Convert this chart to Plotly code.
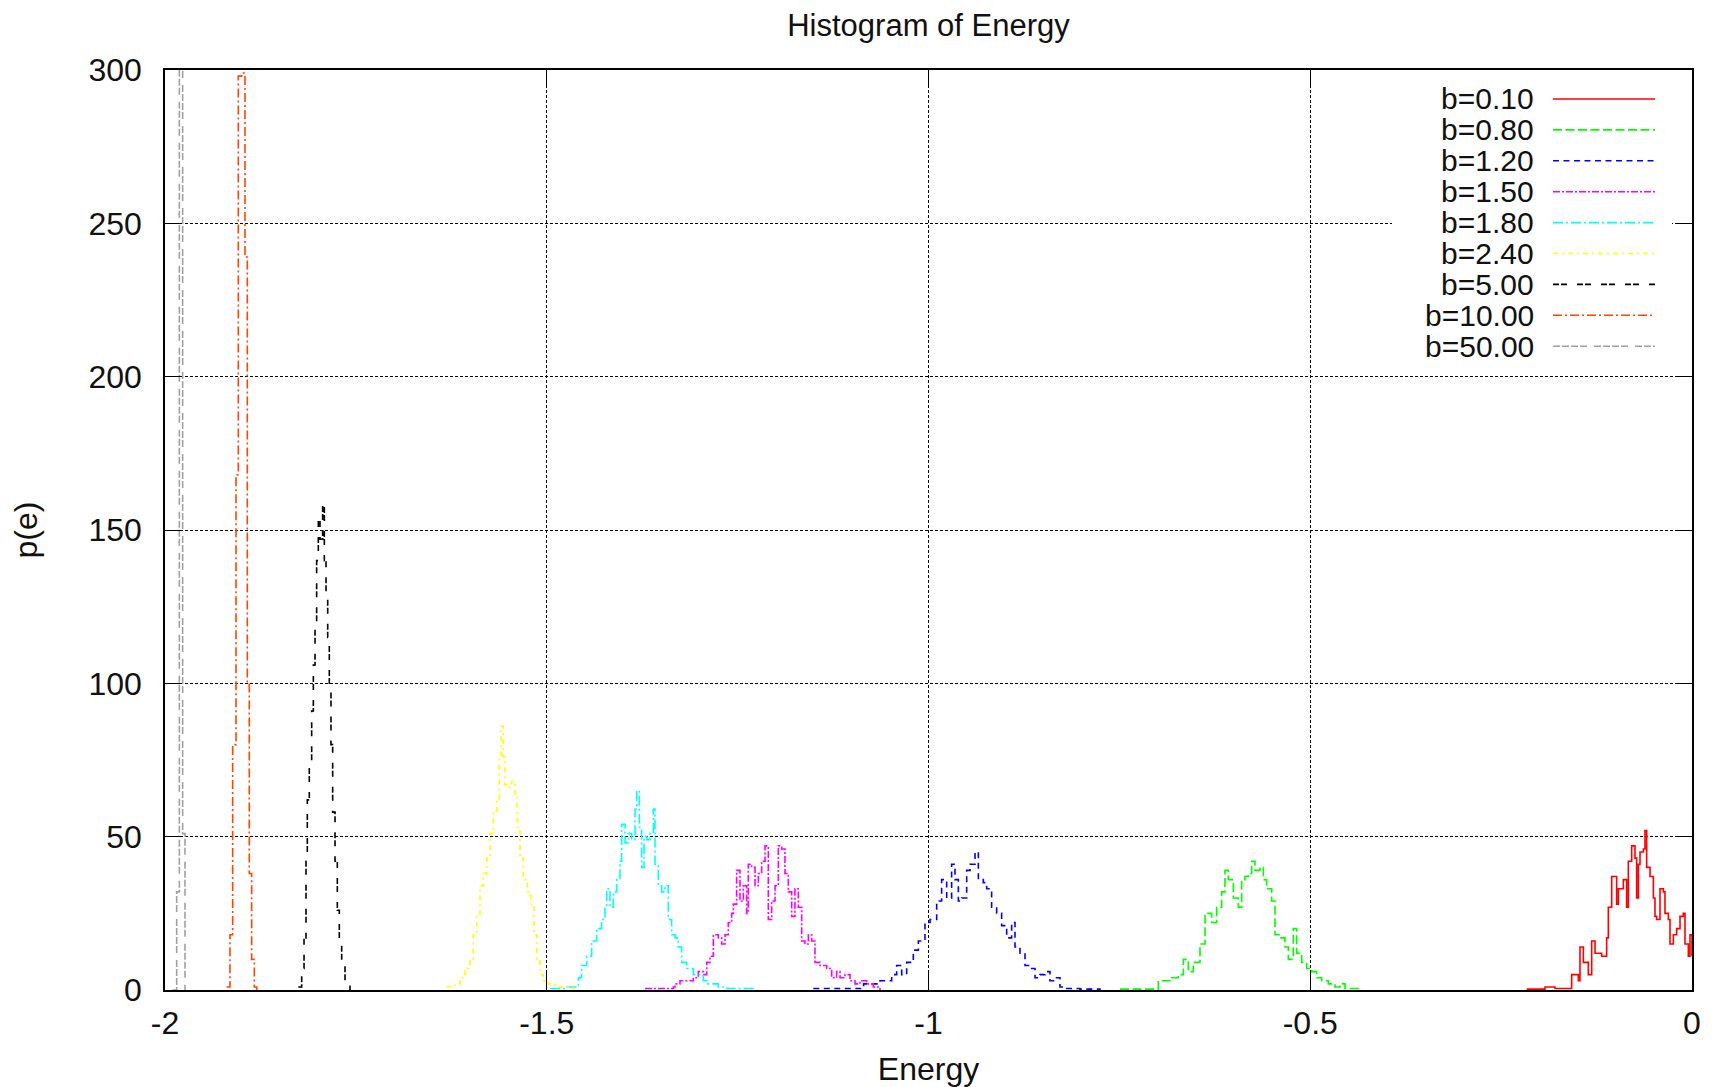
import plotly.graph_objects as go

# ---------------- data ----------------
LABELS = ["b=0.10", "b=0.80", "b=1.20", "b=1.50", "b=1.80", "b=2.40", "b=5.00", "b=10.00", "b=50.00"]

E_B010 = [-0.2165, -0.1925, -0.1794, -0.1707, -0.1576, -0.1489, -0.1467, -0.1423, -0.1358, -0.1314,
          -0.1270, -0.1183, -0.1118, -0.1096, -0.1052, -0.0987, -0.0965, -0.0899, -0.0856, -0.0834,
          -0.0790, -0.0747, -0.0725, -0.0703, -0.0681, -0.0637, -0.0616, -0.0594, -0.0550, -0.0506,
          -0.0485, -0.0463, -0.0419, -0.0375, -0.0354, -0.0310, -0.0288, -0.0244, -0.0201, -0.0157,
          -0.0114, -0.0092, -0.0048, -0.0026, 0.0]
P_B010 = [0.3, 1, 0.5, 0.5, 5, 3, 14, 9, 5, 16,
          12, 11, 17, 27, 37, 28, 33, 36, 27, 42,
          47, 43, 30, 41, 45, 46, 52, 40, 37, 30,
          24, 23, 33, 32, 25, 23, 15, 18, 20, 24,
          25, 15, 11, 18, 11]

E_B080 = [-0.7492, -0.6990, -0.6815, -0.6728, -0.6662, -0.6597, -0.6531, -0.6444, -0.6378, -0.6291,
          -0.6226, -0.6160, -0.6117, -0.6073, -0.6007, -0.5942, -0.5898, -0.5855, -0.5811, -0.5767,
          -0.5724, -0.5658, -0.5614, -0.5571, -0.5505, -0.5462, -0.5396, -0.5331, -0.5287, -0.5222,
          -0.5178, -0.5112, -0.5047, -0.4981, -0.4916, -0.4850, -0.4763, -0.4676, -0.4610, -0.4545,
          -0.4370]
P_B080 = [0.3, 3, 4, 5, 10, 6, 9, 15, 25, 22,
          27, 32, 39, 36, 30, 27, 36, 37, 38, 42,
          39, 40, 36, 33, 29, 18, 17, 14, 10, 20,
          12, 9, 7, 6, 4, 3, 2, 1, 2, 0.5,
          0]

E_B120 = [-1.1509, -1.0850, -1.0635, -1.0482, -1.0417, -1.0351, -1.0286, -1.0199, -1.0133, -1.0046,
          -0.9980, -0.9893, -0.9828, -0.9762, -0.9697, -0.9653, -0.9609, -0.9566, -0.9500, -0.9456,
          -0.9391, -0.9347, -0.9282, -0.9238, -0.9173, -0.9107, -0.9042, -0.8976, -0.8911, -0.8867,
          -0.8802, -0.8736, -0.8671, -0.8605, -0.8540, -0.8474, -0.8409, -0.8343, -0.8278, -0.8190,
          -0.8016, -0.7754]
P_B120 = [0.5, 2, 3, 5, 8, 5, 9, 13, 16, 22,
          23, 29, 36, 30, 41, 36, 29, 30, 39, 41,
          45, 36, 35, 33, 27, 25, 21, 17, 22, 14,
          12, 8, 7, 4, 5, 6, 3, 4, 1, 0.5,
          0.3, 0]

E_B150 = [-1.3713, -1.3342, -1.3320, -1.3255, -1.3167, -1.3080, -1.3015, -1.2949, -1.2905, -1.2862,
          -1.2818, -1.2753, -1.2709, -1.2665, -1.2622, -1.2578, -1.2556, -1.2513, -1.2469, -1.2425,
          -1.2382, -1.2360, -1.2316, -1.2272, -1.2229, -1.2185, -1.2141, -1.2098, -1.2054, -1.2010,
          -1.1967, -1.1923, -1.1880, -1.1836, -1.1792, -1.1749, -1.1705, -1.1661, -1.1618, -1.1574,
          -1.1530, -1.1487, -1.1421, -1.1334, -1.1268, -1.1203, -1.1159, -1.1094, -1.1028, -1.0963,
          -1.0897, -1.0810, -1.0722, -1.0635]
P_B150 = [0.5, 1, 2, 3, 3, 4, 6, 5, 9, 11,
          18, 17, 15, 18, 22, 25, 28, 39, 29, 34,
          25, 41, 40, 34, 38, 42, 47, 23, 29, 34,
          47, 46, 38, 32, 24, 33, 27, 16, 15, 18,
          16, 9, 8, 7, 4, 6, 4, 5, 3, 2,
          3, 2, 1, 0]

E_B180 = [-1.4957, -1.4739, -1.4586, -1.4543, -1.4477, -1.4412, -1.4346, -1.4281, -1.4237, -1.4215,
          -1.4172, -1.4128, -1.4084, -1.4041, -1.4019, -1.3975, -1.3931, -1.3888, -1.3844, -1.3822,
          -1.3787, -1.3757, -1.3726, -1.3691, -1.3648, -1.3604, -1.3582, -1.3539, -1.3495, -1.3451,
          -1.3408, -1.3364, -1.3320, -1.3277, -1.3233, -1.3167, -1.3080, -1.3015, -1.2949, -1.2905,
          -1.2818, -1.2753, -1.2644, -1.2294]
P_B180 = [0.5, 1, 4, 8, 11, 16, 20, 23, 27, 33,
          27, 32, 36, 42, 54, 48, 51, 49, 59, 65,
          53, 40, 50, 49, 51, 59, 41, 34, 32, 34,
          23, 18, 17, 14, 9, 7, 5, 5, 3, 2,
          2, 1, 0.5, 0]

E_B240 = [-1.6311, -1.6202, -1.6136, -1.6071, -1.6005, -1.5962, -1.5918, -1.5874, -1.5831, -1.5787,
          -1.5743, -1.5700, -1.5656, -1.5621, -1.5599, -1.5569, -1.5547, -1.5503, -1.5460, -1.5416,
          -1.5385, -1.5350, -1.5307, -1.5254, -1.5211, -1.5167, -1.5132, -1.5088, -1.5046, -1.4979,
          -1.4892, -1.4652]
P_B240 = [1, 2, 4, 7, 10, 18, 24, 34, 38, 43,
          51, 58, 62, 76, 86, 76, 67, 66, 68, 64,
          53, 43, 36, 32, 27, 18, 10, 5, 3, 2,
          1, 0]

E_B500 = [-1.8254, -1.8210, -1.8179, -1.8153, -1.8136, -1.8110, -1.8079, -1.8057, -1.8035, -1.8014,
          -1.7992, -1.7970, -1.7935, -1.7913, -1.7891, -1.7869, -1.7848, -1.7826, -1.7804, -1.7773,
          -1.7743, -1.7717, -1.7686, -1.7642, -1.7577]
P_B500 = [1, 7, 17, 42, 62, 74, 91, 106, 119, 140,
          153, 147, 159, 140, 129, 115, 99, 80, 58, 42,
          26, 15, 8, 2, 0]

E_B1000 = [-1.9192, -1.9149, -1.9114, -1.9070, -1.9040, -1.8996, -1.8952, -1.8922, -1.8896, -1.8865,
           -1.8830, -1.8799]
P_B1000 = [1, 18, 80, 168, 298, 299, 239, 100, 38, 10,
           1, 0]

E_B5000 = [-1.9900, -1.9847, -1.9812, -1.9769, -1.9738]
P_B5000 = [0, 32, 420, 51, 0]

X_TICKS = [-2, -1.5, -1, -0.5, 0]
X_TICKTEXT = ["-2", "-1.5", "-1", "-0.5", "0"]
Y_TICKS = [0, 50, 100, 150, 200, 250, 300]

# ---------------- styles ----------------
COLORS = ["#ff0000", "#00ff00", "#0000ff", "#ff00ff", "#00ffff", "#ffff00", "#000000", "#ff4500", "#a0a0a0"]
DASHES = ["solid", "9px,3.5px", "6px,4.5px", "7px,2px,2px,2px", "10px,3px,2px,3px",
          "5px,4px,2px,4px", "6px,2px,6px,10px", "9px,3px,2px,3px",
          "7px,2px,7px,2px,7px,2px,7px,7px"]

SERIES = [(E_B010, P_B010), (E_B080, P_B080), (E_B120, P_B120), (E_B150, P_B150),
          (E_B180, P_B180), (E_B240, P_B240), (E_B500, P_B500), (E_B1000, P_B1000),
          (E_B5000, P_B5000)]

FONT = "Liberation Sans, Arial, sans-serif"
FS = 32
LEG_FS = 30
OFF = 8                       # default page margin of the html body
W, H = 1707, 1079
L, R, T, B = 157, 23, 62, 97
PW, PH = W - L - R, H - T - B
X0_PAGE, YB_PAGE = L + OFF, OFF + H - B   # plot-area left / bottom in page pixels

fig = go.Figure()
for (xs, ys), name, col, dsh in zip(SERIES, LABELS, COLORS, DASHES):
    fig.add_trace(go.Scatter(x=xs, y=ys, mode="lines", name=name,
                             line=dict(color=col, width=1.6, dash=dsh, shape="hv"),
                             showlegend=False))


# gnuplot-style key: right-aligned text followed by the line sample
def px_x(x):
    return (x - X0_PAGE) / PW


def px_y(y):
    return (YB_PAGE - y) / PH


shapes = [dict(type="rect", xref="paper", yref="paper", layer="above",
               x0=px_x(1392), x1=px_x(1672), y0=px_y(362), y1=px_y(82),
               fillcolor="white", line=dict(width=0))]
annotations = []
for i, (name, col, dsh) in enumerate(zip(LABELS, COLORS, DASHES)):
    yy = 99 + 30.9 * i
    annotations.append(dict(xref="paper", yref="paper", x=px_x(1536), y=px_y(yy),
                            xanchor="right", yanchor="middle", showarrow=False,
                            text=name, font=dict(family=FONT, size=LEG_FS, color="#111111")))
    shapes.append(dict(type="line", xref="paper", yref="paper", layer="above",
                       x0=px_x(1553), x1=px_x(1655), y0=px_y(yy), y1=px_y(yy),
                       line=dict(color=col, width=1.6, dash=dsh)))

axis_common = dict(showline=True, linecolor="black", linewidth=1.6, mirror="ticks",
                   ticks="inside", ticklen=17, tickwidth=1.4, tickcolor="black",
                   showgrid=True, gridcolor="black", gridwidth=1.1, griddash="3px,2px",
                   zeroline=False, automargin=False,
                   tickfont=dict(family=FONT, size=FS, color="#111111"))

fig.update_layout(
    width=W, height=H, autosize=False,
    margin=dict(l=L, r=R, t=T, b=B),
    paper_bgcolor="white", plot_bgcolor="white",
    title=dict(text="Histogram of Energy", x=0.5, xref="paper", xanchor="center",
               y=1 - 17 / H, yref="container", yanchor="middle",
               font=dict(family=FONT, size=31, color="#111111")),
    xaxis=dict(range=[-2, 0], tickvals=X_TICKS, ticktext=X_TICKTEXT,
               ticklabelstandoff=4,
               title=dict(text="Energy", standoff=22, font=dict(family=FONT, size=FS, color="#111111")),
               **axis_common),
    yaxis=dict(range=[0, 300], tickvals=Y_TICKS, ticklabelstandoff=15,
               title=dict(text="p(e)", standoff=41, font=dict(family=FONT, size=FS, color="#111111")),
               **axis_common),
    shapes=shapes, annotations=annotations,
)

fig.write_html("out.html")
